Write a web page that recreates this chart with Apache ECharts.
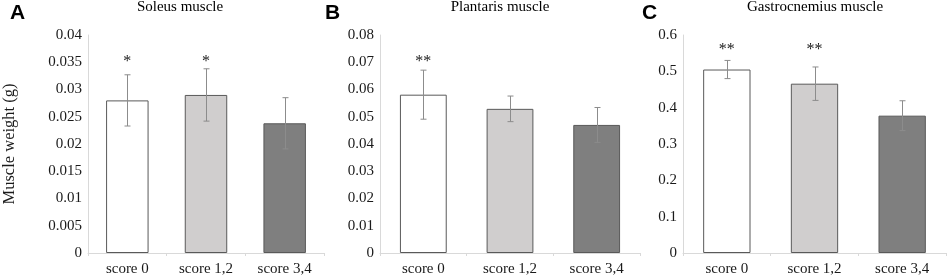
<!DOCTYPE html>
<html>
<head>
<meta charset="utf-8">
<script src="https://cdn.jsdelivr.net/npm/echarts@6/dist/echarts.min.js"></script>
<style>
  html, body { margin: 0; padding: 0; background: #fff; }
  #chart { width: 948px; height: 278px; }
</style>
</head>
<body>
<div id="chart"></div>
<script>
const categories = ['score 0', 'score 1,2', 'score 3,4'];
const barColors = ['#ffffff', '#d0cece', '#7f7f7f'];

const panelLetters = ['A', 'B', 'C'];
const panelTitles = ['Soleus muscle', 'Plantaris muscle', 'Gastrocnemius muscle'];

const soleusMean = [0.0280, 0.0290, 0.0238];
const soleusErr = [0.0047, 0.0048, 0.0047];
const plantarisMean = [0.0581, 0.0529, 0.0470];
const plantarisErr = [0.0090, 0.0047, 0.0064];
const gastroMean = [0.505, 0.466, 0.378];
const gastroErr = [0.025, 0.046, 0.041];

// significance marks and the value at which they sit
const soleusSig = ['*', '*', ''];
const soleusSigY = [0.0350, 0.0350, 0];
const plantarisSig = ['**', '', ''];
const plantarisSigY = [0.0700, 0, 0];
const gastroSig = ['**', '**', ''];
const gastroSigY = [0.558, 0.558, 0];

const yMax = [0.04, 0.08, 0.6];
const yStep = [0.005, 0.01, 0.1];

const means = [soleusMean, plantarisMean, gastroMean];
const errs = [soleusErr, plantarisErr, gastroErr];
const sigs = [soleusSig, plantarisSig, gastroSig];
const sigYs = [soleusSigY, plantarisSigY, gastroSigY];

const gridLeft = [78, 380, 683];
const gridWidth = [246, 260, 263];
const titleX = [180, 500, 815];
const letterX = [10, 325, 642];

const myChart = echarts.init(document.getElementById('chart'));

const serif = '"Liberation Serif", "Times New Roman", serif';
const axisGray = '#d9d9d9';
const textColor = '#1a1a1a';

let grids = [], xAxes = [], yAxes = [], series = [], titles = [];

for (let i = 0; i < 3; i++) {
  grids.push({ left: gridLeft[i], width: gridWidth[i], top: 35, height: 218 });
  xAxes.push({
    type: 'category',
    gridIndex: i,
    data: categories,
    axisLine: { lineStyle: { color: axisGray } },
    axisTick: { show: true, length: 3, lineStyle: { color: axisGray } },
    axisLabel: { fontFamily: serif, fontSize: 15, color: textColor, margin: 9 }
  });
  yAxes.push({
    type: 'value',
    gridIndex: i,
    min: 0,
    max: yMax[i],
    interval: yStep[i],
    splitLine: { show: false },
    axisLine: { show: true, lineStyle: { color: axisGray } },
    axisTick: { show: false },
    axisLabel: {
      fontFamily: serif, fontSize: 15, color: textColor, margin: 6,
      formatter: v => String(Math.round(v * 1000) / 1000)
    },
    name: i === 0 ? 'Muscle weight (g)' : '',
    nameLocation: 'middle',
    nameGap: 70,
    nameTextStyle: { fontFamily: serif, fontSize: 16.5, color: textColor }
  });

  series.push({
    type: 'bar',
    xAxisIndex: i,
    yAxisIndex: i,
    barWidth: '54%',
    data: means[i].map((v, j) => ({
      value: v,
      itemStyle: { color: barColors[j], borderColor: '#595959', borderWidth: 1 }
    })),
    animation: false
  });

  const m = means[i], e = errs[i];
  series.push({
    type: 'custom',
    xAxisIndex: i,
    yAxisIndex: i,
    data: m.map((v, j) => [j, v - e[j], v + e[j]]),
    renderItem: function (params, api) {
      const lo = api.coord([api.value(0), api.value(1)]);
      const hi = api.coord([api.value(0), api.value(2)]);
      const x = Math.round(lo[0]) + 0.5;
      const cap = 3;
      const style = { stroke: '#8c8c8c', lineWidth: 1 };
      return {
        type: 'group',
        children: [
          { type: 'line', shape: { x1: x, y1: lo[1], x2: x, y2: hi[1] }, style: style },
          { type: 'line', shape: { x1: x - cap, y1: hi[1], x2: x + cap, y2: hi[1] }, style: style },
          { type: 'line', shape: { x1: x - cap, y1: lo[1], x2: x + cap, y2: lo[1] }, style: style }
        ]
      };
    },
    z: 5,
    animation: false
  });

  const s = sigs[i], sy = sigYs[i];
  series.push({
    type: 'custom',
    xAxisIndex: i,
    yAxisIndex: i,
    data: s.map((t, j) => [j, sy[j], t]),
    renderItem: function (params, api) {
      const txt = s[params.dataIndex];
      if (!txt) return null;
      const p = api.coord([api.value(0), api.value(1)]);
      return {
        type: 'text',
        style: {
          x: p[0], y: p[1], text: txt,
          font: '16px ' + serif, fill: textColor,
          align: 'center', verticalAlign: 'middle'
        }
      };
    },
    animation: false
  });

  titles.push({
    text: panelTitles[i],
    left: titleX[i], top: 0,
    padding: 0,
    textAlign: 'center',
    textStyle: { fontFamily: serif, fontSize: 15, fontWeight: 'normal', color: '#000' }
  });
  titles.push({
    text: panelLetters[i],
    left: letterX[i], top: 3,
    padding: 0,
    textStyle: { fontFamily: '"Liberation Sans", Arial, sans-serif', fontSize: 21, fontWeight: 'bold', color: '#000' }
  });
}

const options = {
  backgroundColor: '#fff',
  animation: false,
  title: titles,
  grid: grids,
  xAxis: xAxes,
  yAxis: yAxes,
  series: series
};

myChart.setOption(options);
</script>
</body>
</html>
